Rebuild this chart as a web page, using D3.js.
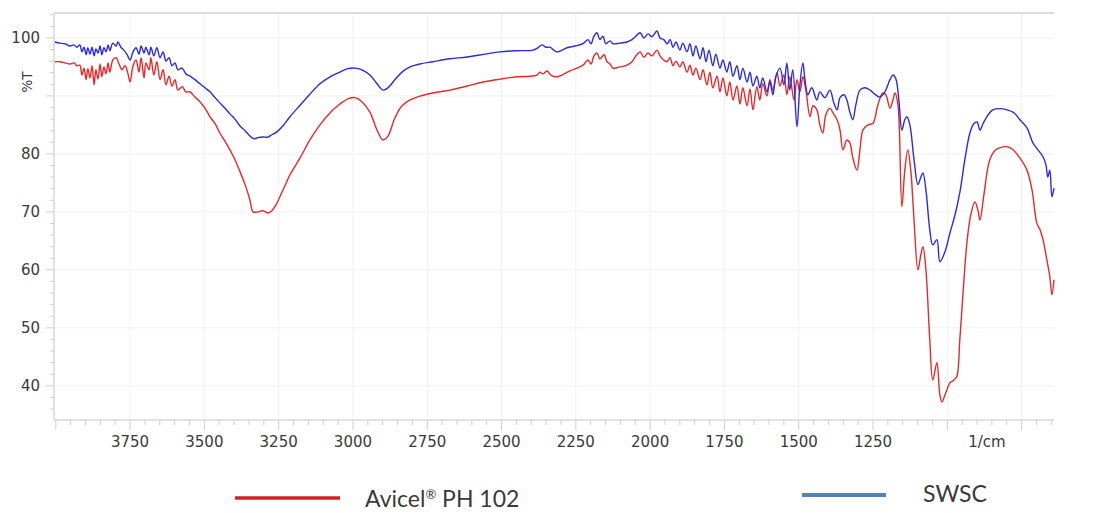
<!DOCTYPE html>
<html><head><meta charset="utf-8">
<script src="https://cdn.jsdelivr.net/npm/d3@7"></script>
<style>
html,body{margin:0;padding:0;background:#fff;}
svg{display:block;}
</style></head>
<body><svg id="c" width="1093" height="513"></svg>
<script>
// ---------- DATA ----------
const xTickLabels = [3750, 3500, 3250, 3000, 2750, 2500, 2250, 2000, 1750, 1500, 1250];
const yTickLabels = [100, 80, 70, 60, 50, 40];
const seriesNames = ["Avicel® PH 102", "SWSC"];

// SWSC (blue)
const swscWn = [4003,3986,3969,3952,3939,3929,3919,3912,3905,3898,3892,3885,3878,3871,3865,3858,3851,3845,3838,3831,3824,3818,3808,3797,3791,3781,3771,3760,3750,3740,3730,3720,3713,3703,3697,3686,3680,3670,3660,3649,3639,3629,3619,3609,3599,3589,3575,3562,3548,3532,3515,3498,3481,3464,3448,3431,3414,3397,3380,3363,3347,3333,3320,3303,3286,3273,3256,3236,3212,3178,3145,3111,3077,3044,3017,2993,2970,2943,2919,2899,2882,2859,2835,2808,2775,2731,2674,2616,2556,2505,2448,2394,2378,2364,2351,2337,2324,2314,2300,2280,2253,2226,2209,2199,2189,2179,2169,2159,2149,2135,2125,2102,2078,2061,2048,2034,2021,2007,1994,1977,1967,1954,1943,1933,1923,1913,1900,1890,1876,1866,1856,1846,1832,1822,1812,1802,1789,1779,1765,1755,1742,1732,1721,1708,1698,1688,1674,1664,1654,1641,1631,1621,1607,1597,1587,1577,1563,1550,1540,1530,1520,1506,1496,1486,1479,1469,1456,1439,1429,1412,1395,1382,1371,1361,1348,1338,1328,1318,1308,1294,1277,1260,1244,1227,1210,1193,1183,1173,1163,1153,1143,1136,1126,1112,1099,1089,1082,1072,1059,1049,1035,1025,1008,991,974,958,941,924,911,900,890,880,867,847,823,799,776,756,732,712,695,678,668,662,655,648,641];
const swscT = [99.3,99.1,99.0,98.6,98.8,98.4,98.8,97.6,98.4,97.1,98.3,97.2,98.4,96.9,98.1,97.4,98.6,97.1,98.3,97.6,98.8,97.8,99.1,98.6,99.3,98.4,97.9,97.1,96.2,97.6,98.3,97.2,98.6,97.4,98.4,97.1,98.4,96.9,98.3,96.6,97.6,96.0,96.6,95.2,95.7,94.5,94.8,93.8,93.4,92.8,92.1,91.4,90.7,89.7,88.8,87.9,86.9,86.0,84.8,84.0,83.1,82.6,82.8,82.9,82.9,83.3,83.8,84.8,86.4,88.4,90.3,92.1,93.3,94.1,94.7,94.8,94.5,93.6,92.1,91.0,91.4,92.8,94.1,95.0,95.5,95.9,96.4,96.7,97.2,97.6,97.8,97.9,98.3,98.8,98.4,98.4,97.9,97.6,97.8,98.3,98.6,99.0,99.7,99.0,100.3,100.9,99.7,100.3,99.0,99.5,99.0,99.1,99.3,99.7,100.3,100.9,100.0,100.7,100.2,101.2,100.0,99.7,99.0,99.7,98.4,99.3,97.9,99.1,97.6,99.0,96.9,98.6,96.4,98.3,95.9,97.9,95.2,97.2,94.8,96.2,94.1,95.9,93.4,95.2,92.8,94.8,92.4,94.1,91.7,93.4,91.4,93.1,90.7,92.4,90.2,93.3,94.8,91.9,95.7,91.0,94.5,84.7,91.9,95.7,92.8,90.2,91.4,89.3,90.7,89.7,91.0,88.8,87.6,89.7,90.2,89.3,87.2,85.9,88.4,91.0,91.4,91.0,90.3,89.8,90.7,92.8,93.6,92.9,89.3,84.1,85.9,86.4,85.0,79.0,74.7,76.0,76.7,73.8,66.9,64.3,65.2,61.4,63.1,66.4,69.5,73.3,79.0,83.6,85.2,85.5,84.1,85.2,86.4,87.6,87.8,87.6,87.1,85.9,84.5,81.9,80.7,79.5,78.1,76.0,77.2,72.6,74.1];

// Avicel PH 102 (red)
const avicelWn = [4003,3986,3969,3952,3939,3929,3919,3912,3905,3898,3892,3885,3878,3871,3865,3858,3851,3845,3838,3831,3824,3818,3808,3797,3787,3777,3767,3757,3750,3740,3730,3720,3713,3703,3697,3686,3680,3670,3660,3649,3639,3629,3619,3609,3599,3589,3575,3562,3548,3532,3515,3498,3481,3464,3448,3431,3414,3397,3380,3363,3347,3336,3320,3303,3286,3273,3259,3246,3229,3212,3178,3145,3111,3077,3044,3017,2993,2970,2943,2919,2899,2882,2859,2835,2808,2785,2731,2674,2616,2563,2505,2448,2404,2381,2371,2361,2347,2334,2314,2297,2270,2246,2226,2209,2199,2189,2179,2169,2155,2145,2135,2125,2102,2078,2061,2048,2034,2021,2007,1994,1977,1967,1954,1943,1933,1923,1913,1900,1890,1876,1866,1856,1846,1832,1822,1809,1799,1789,1775,1765,1755,1742,1732,1721,1708,1698,1688,1674,1664,1654,1641,1631,1621,1607,1597,1587,1573,1563,1550,1540,1530,1516,1506,1496,1486,1476,1462,1452,1439,1429,1419,1409,1395,1385,1371,1361,1351,1338,1328,1318,1304,1294,1284,1267,1250,1234,1217,1207,1193,1183,1176,1166,1153,1143,1133,1123,1112,1099,1089,1082,1072,1059,1049,1035,1025,1018,1008,991,978,968,958,944,934,921,907,897,890,877,857,837,813,796,779,756,732,715,699,688,678,665,655,648,641];
const avicelT = [95.9,95.9,95.7,95.5,95.7,95.2,95.3,93.6,94.8,92.8,94.7,93.1,95.2,91.9,94.5,92.9,95.5,93.3,95.0,93.8,95.7,94.1,96.2,96.6,95.5,94.5,95.2,93.8,92.4,95.2,96.2,94.1,96.6,93.1,95.7,94.5,96.6,93.6,95.9,92.8,94.5,91.9,93.4,91.7,92.8,91.0,91.6,90.7,90.7,89.8,89.0,87.9,86.4,85.2,83.6,82.2,80.7,79.0,76.9,74.7,72.1,70.0,70.0,70.2,69.8,70.2,71.2,72.6,74.5,76.4,79.3,82.4,85.0,87.1,88.6,89.5,89.7,89.0,87.2,84.1,82.4,83.1,86.2,88.3,89.3,89.8,90.5,91.0,91.7,92.4,92.9,93.3,93.4,93.6,94.1,93.8,94.3,93.6,93.3,93.6,94.3,94.8,95.3,96.2,95.5,96.9,97.4,96.4,97.1,95.9,95.5,94.8,95.0,95.3,95.9,96.9,97.6,96.7,97.4,96.9,97.9,96.9,96.2,95.9,96.6,95.2,96.0,95.0,95.9,94.1,95.3,93.6,94.8,92.8,94.5,91.9,94.1,91.4,93.4,90.7,93.1,90.0,92.4,89.3,91.7,88.6,91.4,88.3,91.2,87.6,91.6,89.3,92.1,90.0,92.8,91.0,94.0,91.7,93.6,90.2,93.3,89.3,92.8,90.7,93.3,91.0,86.4,88.3,87.6,85.0,83.6,86.7,87.9,87.1,85.9,84.1,80.7,82.4,81.9,79.3,77.2,80.7,84.1,85.0,85.3,88.4,90.5,90.2,87.9,89.3,90.5,88.4,70.9,77.2,80.7,77.2,68.6,60.0,62.6,64.0,60.0,47.9,41.0,44.0,38.4,37.2,38.4,40.5,41.0,41.6,47.9,58.3,64.7,69.5,71.7,70.3,68.6,72.9,79.0,80.7,81.2,81.2,80.7,79.3,77.2,73.8,68.1,66.9,65.2,61.7,58.8,55.7,58.3];

// ---------- CHART ----------
const svg = d3.select("#c");
const L = 54, R = 1054, T = 13, B = 420;
const x = d3.scaleLinear().domain([4006, 641]).range([L, R]);
const y = d3.scaleLinear().domain([34.1, 104.3]).range([B, T]);

const gridCol = "#f1f1f1", axisCol = "#d9d9d9", textCol = "#3a3a3a";

// grid
const g = svg.append("g");
g.selectAll(".vg").data(d3.range(3750, 700, -250)).enter().append("line")
  .attr("x1", d => x(d)).attr("x2", d => x(d)).attr("y1", T).attr("y2", B)
  .attr("stroke", gridCol).attr("stroke-width", 1);
g.selectAll(".hg").data(d3.range(40, 101, 10)).enter().append("line")
  .attr("x1", L).attr("x2", R).attr("y1", d => y(d)).attr("y2", d => y(d))
  .attr("stroke", gridCol).attr("stroke-width", 1);

// frame lines
svg.append("line").attr("x1", L).attr("x2", R).attr("y1", T).attr("y2", T).attr("stroke", "#dcdcdc").attr("stroke-width", 2);
svg.append("line").attr("x1", L).attr("x2", L).attr("y1", T).attr("y2", B).attr("stroke", axisCol).attr("stroke-width", 1.5);
svg.append("line").attr("x1", L).attr("x2", R).attr("y1", B).attr("y2", B).attr("stroke", axisCol).attr("stroke-width", 1.5);

// x ticks
const xMinor = d3.range(4000, 640, -50);
svg.selectAll(".xt").data(xMinor).enter().append("line")
  .attr("x1", d => x(d)).attr("x2", d => x(d)).attr("y1", B)
  .attr("y2", d => B + (d % 250 === 0 ? 10 : 5))
  .attr("stroke", "#cfcfcf").attr("stroke-width", 1);
// y ticks
const yMinor = d3.range(36, 105, 2);
svg.selectAll(".yt").data(yMinor).enter().append("line")
  .attr("y1", d => y(d)).attr("y2", d => y(d)).attr("x1", L)
  .attr("x2", d => L - (d % 10 === 0 ? 8 : 4))
  .attr("stroke", "#cfcfcf").attr("stroke-width", 1);

const font = "'DejaVu Sans', Verdana, sans-serif";
svg.selectAll(".xl").data(xTickLabels).enter().append("text")
  .attr("x", d => x(d)).attr("y", 447).attr("text-anchor", "middle")
  .attr("font-family", font).attr("font-size", 15).attr("fill", textCol)
  .text(d => d);
svg.append("text").attr("x", 987).attr("y", 447).attr("text-anchor", "middle")
  .attr("font-family", font).attr("font-size", 15).attr("fill", textCol).text("1/cm");
svg.selectAll(".yl").data(yTickLabels).enter().append("text")
  .attr("x", 40).attr("y", d => y(d) + 5.5).attr("text-anchor", "end")
  .attr("font-family", font).attr("font-size", 15).attr("fill", textCol)
  .text(d => d);
svg.append("text").attr("transform", "translate(32,82) rotate(-90)")
  .attr("text-anchor", "middle").attr("font-family", font).attr("font-size", 13.5)
  .attr("fill", textCol).text("%T");

// lines
const line = d3.line().x(d => x(d[0])).y(d => y(d[1])).curve(d3.curveCatmullRom.alpha(0.5));
const red = d3.zip(avicelWn, avicelT);
const blue = d3.zip(swscWn, swscT);
svg.append("path").attr("d", line(red)).attr("fill", "none")
  .attr("stroke", "#e42a2a").attr("stroke-width", 1.4).attr("stroke-linejoin", "round");
svg.append("path").attr("d", line(blue)).attr("fill", "none")
  .attr("stroke", "#2b2bdc").attr("stroke-width", 1.4).attr("stroke-linejoin", "round");

// legend
const lf = "Lato, 'Open Sans', sans-serif";
svg.append("line").attr("x1", 235).attr("x2", 340).attr("y1", 498).attr("y2", 498)
  .attr("stroke", "#d42127").attr("stroke-width", 3.5);
const t1 = svg.append("text").attr("x", 365).attr("y", 507)
  .attr("font-family", lf).attr("font-size", 23).attr("fill", "#3a3a3a");
t1.append("tspan").text("Avicel");
t1.append("tspan").attr("font-size", 13).attr("dy", -8).text("®");
t1.append("tspan").attr("dy", 8).text(" PH 102");
svg.append("line").attr("x1", 802).attr("x2", 886).attr("y1", 495).attr("y2", 495)
  .attr("stroke", "#5a7db8").attr("stroke-width", 4);
svg.append("text").attr("x", 923).attr("y", 502)
  .attr("font-family", lf).attr("font-size", 23).attr("fill", "#3a3a3a").text(seriesNames[1]);
</script></body></html>
